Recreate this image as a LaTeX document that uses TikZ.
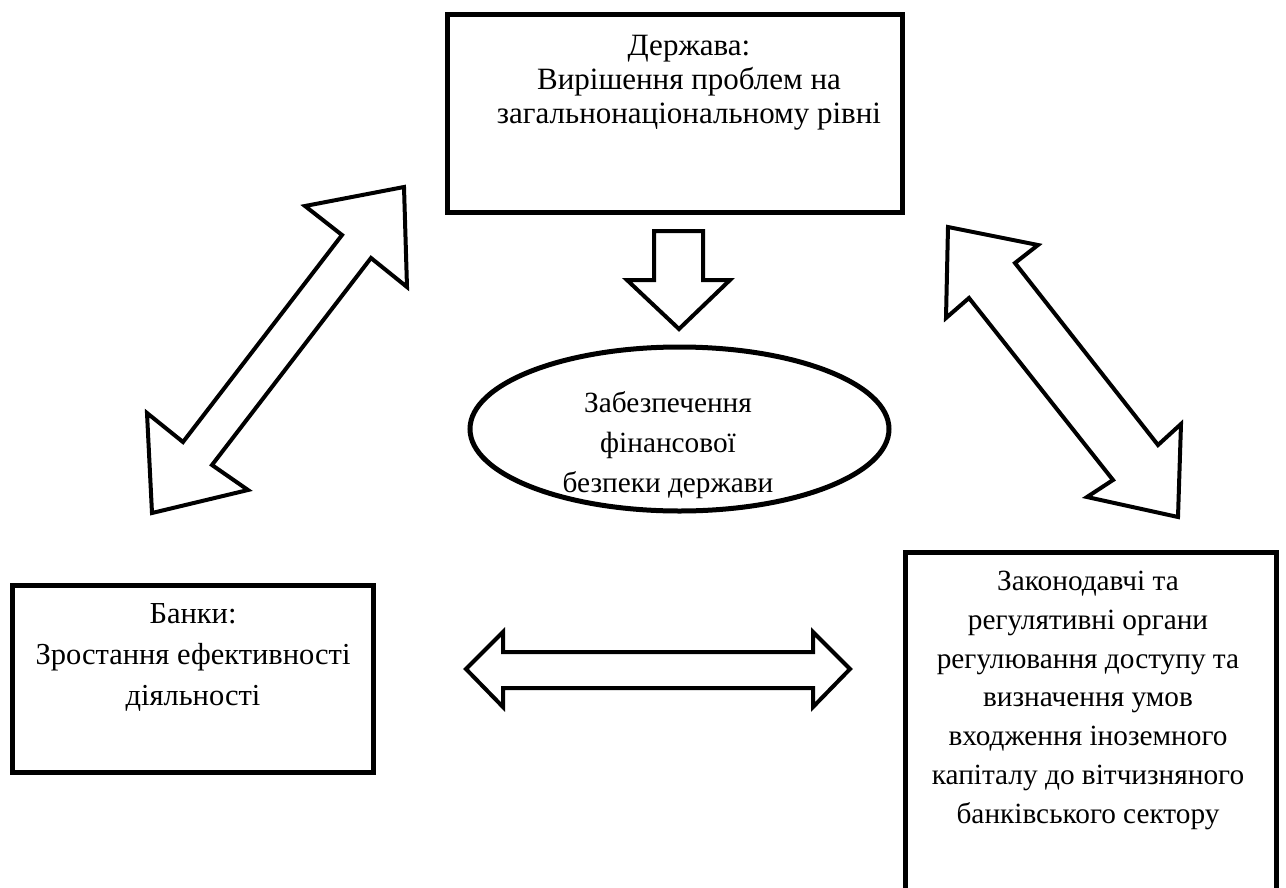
\documentclass[tikz,border=0pt]{standalone}
\usepackage{fontspec}
\setmainfont{Liberation Serif}
\newfontfamily\tnr{Liberation Serif}
\usetikzlibrary{shapes.geometric}
\begin{document}
\begin{tikzpicture}[x=1pt,y=-1pt,
  box/.style={draw, line width=5pt, rectangle, inner sep=0pt},
  oval/.style={draw, line width=5pt, ellipse, inner sep=0pt},
  lbl/.style={align=center, inner sep=0pt, anchor=base},
  blockarrow/.style={draw, line width=4pt, line join=miter, fill=white}]
\useasboundingbox (0,0) rectangle (1286,887);
\clip (0,0) rectangle (1286,887);

% boxes
\node[box, minimum width=455pt, minimum height=198pt] (state) at (674.5,113) {};
\node[box, minimum width=361pt, minimum height=187pt] (banks) at (193,679) {};
\node[box, minimum width=371pt, minimum height=400pt] (law) at (1091,752.5) {};
\node[oval, minimum width=419pt, minimum height=164pt] (goal) at (679.5,429) {};

% texts (anchor=base is the baseline of the last line)
\node[lbl, font=\tnr\fontsize{31}{34}\selectfont] (statetext) at (689,123)
  {Держава:\\Вирішення проблем на\\загальнонаціональному рівні};
\node[lbl, font=\tnr\fontsize{30.5}{41}\selectfont] (bankstext) at (193,705)
  {Банки:\\Зростання ефективності\\діяльності};
\node[lbl, font=\tnr\fontsize{29.3}{40}\selectfont] (goaltext) at (668,492)
  {Забезпечення\\фінансової\\безпеки держави};
\node[lbl, font=\tnr\fontsize{29.3}{38.7}\selectfont] (lawtext) at (1088,823)
  {Законодавчі та\\регулятивні органи\\регулювання доступу та\\визначення умов\\входження іноземного\\капіталу до вітчизняного\\банківського сектору};

% block arrows
\draw[blockarrow] (654,231) -- (703,231) -- (703,280) -- (730,280) -- (679,329)
  -- (627,280) -- (654,280) -- cycle;
\draw[blockarrow] (305,206) -- (404,187) -- (407,287) -- (371,258) -- (212,465)
  -- (248,490) -- (152,513) -- (147,413) -- (183,442) -- (342,235) -- cycle;
\draw[blockarrow] (948,227) -- (1038,245) -- (1015,263) -- (1158,445) -- (1181,424)
  -- (1178,517) -- (1087,497) -- (1113,480) -- (969,298) -- (946,318) -- cycle;
\draw[blockarrow] (466,669) -- (503,632) -- (503,652) -- (813,652) -- (813,632)
  -- (850,669) -- (813,707) -- (813,688) -- (503,688) -- (503,707) -- cycle;
\end{tikzpicture}
\end{document}
